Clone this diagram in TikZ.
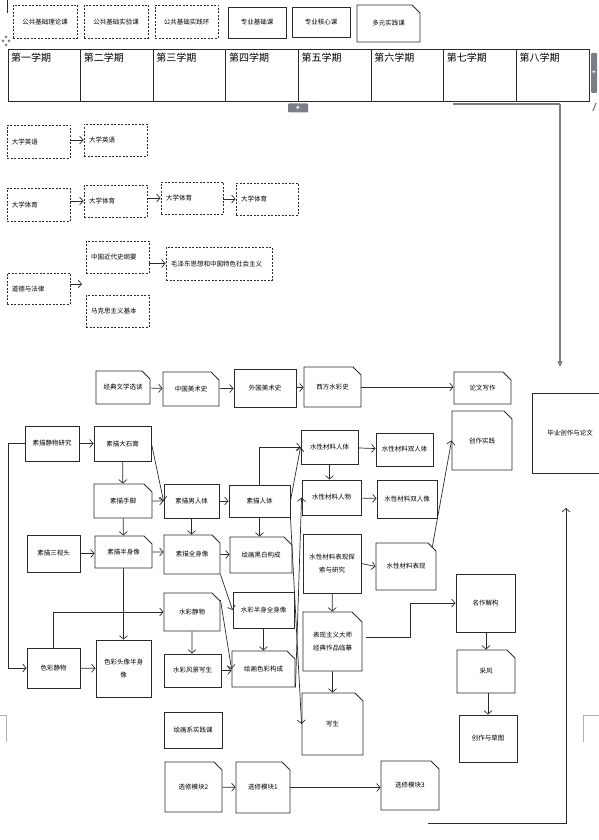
\documentclass[tikz,border=0pt]{standalone}
\usepackage{fontspec}
\setmainfont{Noto Sans CJK SC}
\usetikzlibrary{arrows.meta, positioning, shapes.misc}
\definecolor{lineDark}{HTML}{2B2B2B}
\definecolor{handleGray}{HTML}{7A7F87}
\tikzset{
  arrowD/.style={-{Straight Barb[length=3.5pt, width=8pt]}, lineDark, line width=0.7pt},
  lineG/.style={handleGray, line width=1.6pt},
  pubBox/.style={rectangle, draw=lineDark, dashed, dash pattern=on 2pt off 1.5pt,
                 line width=0.9pt, align=left, font=\fontsize{6.5}{8}\selectfont,
                 inner sep=0pt, text depth=0pt},
  proBox/.style={rectangle, draw=lineDark, line width=0.9pt, align=center,
                 font=\fontsize{6.5}{13}\selectfont, inner sep=0pt},
  snipBox/.style={chamfered rectangle, chamfered rectangle corners=north east,
                  chamfered rectangle xsep=5pt, chamfered rectangle ysep=5pt,
                  draw=lineDark, line width=0.9pt, align=center,
                  font=\fontsize{6.5}{13}\selectfont, inner sep=0pt},
  semLabel/.style={anchor=north west, font=\fontsize{10}{12}\selectfont, inner sep=0pt},
}
\begin{document}
\begin{tikzpicture}[x=1pt, y=-1pt]
  \useasboundingbox (0,0) rectangle (599,840);
  \draw[lineDark, line width=1pt] (7,0) -- (7,13);

  % legend
  \node[pubBox, minimum width=64pt, minimum height=33pt, align=center] (lgA) at (45,21.5) {公共基础理论课};
  \node[pubBox, minimum width=64pt, minimum height=33pt, align=center] (lgB) at (116,21.5) {公共基础实验课};
  \node[pubBox, minimum width=63pt, minimum height=33pt, align=center] (lgC) at (186.5,21.5) {公共基础实践环};
  \node[proBox, minimum width=58pt, minimum height=31pt] (lgD) at (257,22.5) {专业基础课};
  \node[proBox, minimum width=58pt, minimum height=30pt] (lgE) at (321,22) {专业核心课};
  \node[snipBox, minimum width=63pt, minimum height=37pt] (lgF) at (388.5,23.5) {多元实践课};

  % semesters
  \node[draw=lineDark, line width=0.9pt, minimum width=581pt, minimum height=52pt, inner sep=0pt] (sem) at (298.5,75) {};
  \foreach \n [count=\i from 0] in {一,二,三,四,五,六,七,八} {
    \node[semLabel] (s\i) at (8+72.625*\i+3,53) {第\n 学期};
    \ifnum\i>0 \draw[lineDark, line width=0.9pt] (8+72.625*\i,49) -- (8+72.625*\i,101); \fi
  }
  \foreach \p in {(3,41),(6,37),(6,45),(9,41)}
    \fill[handleGray] \p ++(-1.5,0) -- ++(1.5,-1.5) -- ++(1.5,1.5) -- ++(-1.5,1.5) -- cycle;
  \node[fill=handleGray, rounded corners=1pt, minimum width=20pt, minimum height=9pt, inner sep=0pt,
        text=white, font=\bfseries\fontsize{7}{7}\selectfont] (hB) at (298,108) {+};
  \node[fill=handleGray, rounded corners=1pt, minimum width=6pt, minimum height=40pt, inner sep=0pt,
        text=white, font=\bfseries\fontsize{6}{6}\selectfont] (hR) at (594,73) {+};
  \draw[handleGray, line width=1.2pt] (593,111) -- (596,103);

  % public courses
  \node[pubBox, text width=53pt, minimum height=33pt, inner xsep=5pt] (en1) at (38.5,141.5) {大学英语};
  \node[pubBox, text width=53pt, minimum height=32pt, inner xsep=5pt] (en2) at (115.5,140) {大学英语};
  \node[pubBox, text width=53pt, minimum height=33pt, inner xsep=5pt] (pe1) at (38.5,204.5) {大学体育};
  \node[pubBox, text width=53pt, minimum height=32pt, inner xsep=5pt] (pe2) at (115.5,201) {大学体育};
  \node[pubBox, text width=52pt, minimum height=32pt, inner xsep=5pt] (pe3) at (192,198) {大学体育};
  \node[pubBox, text width=52pt, minimum height=32pt, inner xsep=5pt] (pe4) at (267,199) {大学体育};
  \node[pubBox, text width=53pt, minimum height=31pt, inner xsep=5pt] (law) at (38.5,288.5) {道德与法律};
  \node[pubBox, text width=53pt, minimum height=32pt, inner xsep=5pt] (his) at (117.5,257) {中国近代史纲要};
  \node[pubBox, text width=96pt, minimum height=33pt, inner xsep=5pt] (mao) at (219,263.5) {毛泽东思想和中国特色社会主义};
  \node[pubBox, text width=53pt, minimum height=32pt, inner xsep=5pt] (mks) at (117.5,311) {马克思主义基本};
  \coordinate (lawEnd) at (82,284);
  \draw[arrowD] (en1.east |- en2.west) -- (en2.west);
  \draw[arrowD] (pe1.east |- pe2.west) -- (pe2.west); \draw[arrowD] (pe2.east |- pe3.west) -- (pe3.west);
  \draw[arrowD] (pe3.east |- pe4.west) -- (pe4.west);
  \draw[arrowD] (law.east |- lawEnd) -- (lawEnd); \draw[arrowD] (his.east |- mao.west) -- (mao.west);

  % theory line
  \node[snipBox, minimum width=54pt, minimum height=33pt] (lit) at (123,387.5) {经典文学选读};
  \node[snipBox, minimum width=56pt, minimum height=34pt] (cnArt) at (191,389) {中国美术史};
  \node[proBox, minimum width=62pt, minimum height=38pt] (frArt) at (265,388) {外国美术史};
  \node[snipBox, minimum width=57pt, minimum height=40pt] (wcHis) at (332.5,387) {西方水彩史};
  \node[snipBox, minimum width=57pt, minimum height=32pt] (essay) at (482.5,388) {论文写作};
  \node[proBox, minimum width=76pt, minimum height=80pt] (grad) at (570,433) {毕业创作与论文};
  \node[snipBox, minimum width=60pt, minimum height=59pt] (prac) at (482,440.5) {创作实践};
  \draw[arrowD] (lit) -- (cnArt); \draw[arrowD] (cnArt) -- (frArt); \draw[arrowD] (frArt) -- (wcHis);
  \draw[arrowD] (wcHis.east) -- (wcHis.east -| essay.west);

  % sketch
  \node[proBox, minimum width=54pt, minimum height=35pt] (skStill) at (52,443.5) {素描静物研究};
  \node[proBox, minimum width=57pt, minimum height=35pt] (skCast) at (122.5,443.5) {素描大石膏};
  \node[snipBox, minimum width=58pt, minimum height=34pt] (skHand) at (123,501) {素描手脚};
  \node[proBox, minimum width=55pt, minimum height=34pt] (skMale) at (191.5,501) {素描男人体};
  \node[proBox, minimum width=61pt, minimum height=32pt] (skBody) at (259.5,501) {素描人体};
  \node[proBox, minimum width=53pt, minimum height=37pt] (skHead) at (53.5,553.5) {素描三视头};
  \node[snipBox, minimum width=57pt, minimum height=32pt] (skHalf) at (123.5,552) {素描半身像};
  \node[snipBox, minimum width=56pt, minimum height=39pt] (skFull) at (192,554.5) {素描全身像};
  \node[snipBox, minimum width=62pt, minimum height=36pt] (bwComp) at (261,555) {绘画黑白构成};

  % water media
  \node[proBox, minimum width=57pt, minimum height=34pt] (wmBody) at (329.5,447) {水性材料人体};
  \node[proBox, minimum width=57pt, minimum height=33pt] (wmBody2) at (404.5,449.5) {水性材料双人体};
  \node[proBox, minimum width=59pt, minimum height=35pt] (wmFig) at (331.5,497.5) {水性材料人物};
  \node[proBox, minimum width=60pt, minimum height=38pt] (wmFig2) at (407,499) {水性材料双人像};
  \node[proBox, minimum width=58pt, minimum height=59pt] (wmExp) at (332,563.5) {水性材料表现探\\索与研究};
  \node[snipBox, minimum width=60pt, minimum height=47pt] (wmShow) at (406,566.5) {水性材料表现};
  \node[snipBox, minimum width=59pt, minimum height=59pt] (master) at (332.5,641.5) {表现主义大师\\经典作品临摹};
  \node[snipBox, minimum width=61pt, minimum height=62pt] (sketchOut) at (332.5,724) {写生};

  % colour
  \node[snipBox, minimum width=56pt, minimum height=38pt] (wcStill) at (192,612) {水彩静物};
  \node[proBox, minimum width=61pt, minimum height=36pt] (wcHalf) at (263.5,610) {水彩半身全身像};
  \node[proBox, minimum width=53pt, minimum height=40pt] (clStill) at (53.5,668) {色彩静物};
  \node[proBox, minimum width=55pt, minimum height=57pt] (clHead) at (123.5,668.5) {色彩头像半身\\像};
  \node[proBox, minimum width=57pt, minimum height=33pt] (wcLand) at (192.5,670.5) {水彩风景写生};
  \node[snipBox, minimum width=63pt, minimum height=36pt] (clComp) at (263.5,669) {绘画色彩构成};

  % creation
  \node[proBox, minimum width=59pt, minimum height=58pt] (decon) at (485.5,603) {名作解构};
  \node[snipBox, minimum width=58pt, minimum height=43pt] (field) at (486,671.5) {采风};
  \node[proBox, minimum width=58pt, minimum height=47pt] (draft) at (488,738.5) {创作与草图};

  % electives
  \node[proBox, minimum width=58pt, minimum height=36pt] (deptPr) at (193,730) {绘画系实践课};
  \node[snipBox, minimum width=57pt, minimum height=50pt] (elecB) at (193.5,787) {选修模块2};
  \node[snipBox, minimum width=54pt, minimum height=51pt] (elecA) at (263,787.5) {选修模块1};
  \node[snipBox, minimum width=58pt, minimum height=49pt] (elecC) at (410,785.5) {选修模块3};

  \coordinate (semOut) at (453,104); \coordinate (gradIn) at (560,367);
  \coordinate (botOut) at (428,823); \coordinate (gradUp) at (566,508);
  \draw[lineG] (semOut) -- (semOut -| gradIn);
  \draw[-{Triangle[length=6pt, width=5pt]}, lineG, line width=1.2pt] (semOut -| gradIn) -- (gradIn);
  \draw[arrowD] (botOut) -| (gradUp);

  \draw[arrowD] (skStill) -- (skCast); \draw[arrowD] (skCast) -- (skHand);
  \draw[arrowD] (skCast.east) -- (skMale.west);
  \draw[arrowD] (skHand) -- (skMale); \draw[arrowD] (skMale) -- (skBody);
  \draw[arrowD] (skBody.north) |- (wmBody.west);
  \draw[arrowD] (skBody.east) -- (wmBody.west);
  \draw[arrowD] (clComp.south east) -- (wmFig.west);
  \draw[arrowD] (skBody.south east) -- (sketchOut.west);
  \draw[arrowD] (wmBody) -- (wmBody2); \draw[arrowD] (wmBody) -- (wmBody.south |- wmFig.north);
  \draw[arrowD] (wmFig) -- (wmFig2);
  \draw[arrowD] (wmExp.east) -- (wmShow.west); \draw[arrowD] (wmShow.north east) -- (prac.west);
  \draw[arrowD] (wmExp) -- (master); \draw[arrowD] (master) -- (sketchOut);
  \draw[arrowD] ([xshift=4pt, yshift=4pt]master.east) -- ++(44,0) |- (decon.west);
  \draw[arrowD] (decon.south -| field.north) -- (field.north); \draw[arrowD] (field.south -| draft.north) -- (draft.north);

  \draw[arrowD] (skHead) -- (skHead -| skHalf.west); \draw[arrowD] (skHand) -- (skHalf);
  \draw[arrowD] (skHalf) -- (skHalf -| skFull.west); \draw[arrowD] (skMale) -- (skMale |- skFull.north);
  \draw[arrowD] (skFull) -- (skFull -| bwComp.west); \draw[arrowD] (skBody) -- (skBody |- bwComp.north);
  \draw[arrowD] (skFull.south east) -- (wcHalf.west);
  \draw[arrowD] (skHalf) -- (skHalf |- clHead.north);
  \draw[arrowD] (clStill.north) |- (wcStill.west);
  \draw[arrowD] (skStill.west) -- ++(-16,0) |- (clStill.west);
  \draw[arrowD] (clStill) -- (clHead);
  \draw[arrowD] (wcStill) -- (wcStill |- wcLand.north); \draw[arrowD] (wcLand) -- (wcLand -| clComp.west);
  \draw[arrowD] (wcHalf) -- (wcHalf |- clComp.north);
  \draw[arrowD] ([yshift=12pt]wcStill.east) -- (clComp.west);

  \draw[arrowD] (elecB) -- (elecA); \draw[arrowD] (elecA.east) -- (elecA.east -| elecC.west);

  \draw[handleGray!60, line width=0.8pt] (0,715) -- (6,715) -- (6,742);
  \draw[handleGray!60, line width=0.8pt] (599,715) -- (583,715) -- (583,742);
\end{tikzpicture}
\end{document}
